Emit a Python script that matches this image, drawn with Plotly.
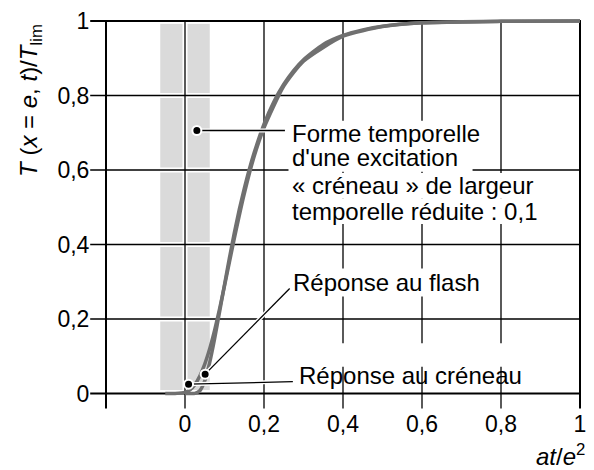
import plotly.graph_objects as go

# Rear-face temperature rise, normalised by its final value, vs reduced time at/e^2
flash_t = [0, 0.0125, 0.025, 0.0375, 0.05, 0.0625, 0.075, 0.0875, 0.1, 0.1125,
           0.125, 0.1375, 0.15, 0.1625, 0.175, 0.2, 0.225, 0.25, 0.275, 0.3,
           0.35, 0.4, 0.45, 0.5, 0.6, 0.7, 0.8, 1.0]
flash_T = [0, 0, 0.0003, 0.0074, 0.034, 0.083, 0.147, 0.219, 0.292, 0.364,
           0.432, 0.494, 0.550, 0.601, 0.646, 0.723, 0.783, 0.830, 0.867, 0.896,
           0.937, 0.961, 0.976, 0.986, 0.995, 0.998, 0.999, 1.0]

creneau_t = [-0.05, -0.025, 0, 0.0125, 0.025, 0.0375, 0.05, 0.0625, 0.075, 0.0875,
             0.1, 0.125, 0.15, 0.175, 0.2, 0.25, 0.3, 0.4, 0.5, 0.6, 0.8, 1.0]
creneau_T = [0, 0.0002, 0.003, 0.0098, 0.024, 0.047, 0.079, 0.120, 0.170, 0.227,
             0.289, 0.417, 0.536, 0.636, 0.713, 0.825, 0.892, 0.959, 0.985, 0.995, 0.999, 1.0]

pulse_width = 0.1  # reduced duration of the square excitation

x_ticks = [0, 0.2, 0.4, 0.6, 0.8, 1.0]
x_ticktext = ["0", "0,2", "0,4", "0,6", "0,8", "1"]
y_ticks = [0, 0.2, 0.4, 0.6, 0.8, 1.0]
y_ticktext = ["0", "0,2", "0,4", "0,6", "0,8", "1"]
x_rules = [-0.2] + x_ticks

# ---- layout geometry ----
W, H = 594, 470
ML, MR, MT, MB = 106, 8, 17, 72
XR = [-0.2, 1.0]
YR = [-0.012, 1.008]
PW = W - ML - MR
PH = H - MT - MB
FONT = "Liberation Sans"
CURVE = "#707070"


def px(x):
    return (x - XR[0]) / (XR[1] - XR[0])


def py(y):
    return (y - YR[0]) / (YR[1] - YR[0])


def box(x0, x1, y0, y1, color):
    return dict(type="rect", xref="paper", yref="paper", layer="below",
                x0=px(x0), x1=px(x1), y0=py(y0), y1=py(y1),
                fillcolor=color, line=dict(width=0))


tick_x = 15 / PH   # tick length below the axis, paper units
tick_y = 16 / PW   # tick length left of the axis, paper units

shapes = []
# light grey band: the square pulse centred on t = 0
band = box(-pulse_width / 2, pulse_width / 2, 0.023, 0.979, "#dadada")
band["line"] = dict(color="#dadada", width=10)
shapes.append(band)

rules = []
for xv in x_rules:
    rules.append((px(xv), px(xv), py(0) - tick_x, py(1.0),
                  2.0 if xv in (-0.2, 1.0) else 1.3))
for yv in y_ticks:
    rules.append((px(-0.2) - tick_y, px(1.0) + 0.002, py(yv), py(yv),
                  2.0 if yv in (0, 1.0) else 1.3))

# white halo first, then the black rules
for x0, x1, y0, y1, w in rules:
    shapes.append(dict(type="line", xref="paper", yref="paper", layer="below",
                       x0=x0, x1=x1, y0=y0, y1=y1,
                       line=dict(color="white", width=5)))
for x0, x1, y0, y1, w in rules:
    shapes.append(dict(type="line", xref="paper", yref="paper", layer="below",
                       x0=x0, x1=x1, y0=y0, y1=y1,
                       line=dict(color="black", width=w)))

# white backing behind the caption lines
shapes.append(box(0.262, 0.775, 0.662, 0.732, "white"))
shapes.append(box(0.262, 0.728, 0.595, 0.662, "white"))
shapes.append(box(0.262, 0.915, 0.523, 0.592, "white"))
shapes.append(box(0.262, 0.925, 0.455, 0.523, "white"))
shapes.append(box(0.275, 0.86, 0.072, 0.135, "white"))

fig = go.Figure()

fig.add_trace(go.Scatter(x=creneau_t, y=creneau_T, mode="lines",
                         line=dict(color=CURVE, width=3.5, shape="spline", smoothing=0.6),
                         hoverinfo="skip"))
fig.add_trace(go.Scatter(x=flash_t, y=flash_T, mode="lines",
                         line=dict(color=CURVE, width=3.5, shape="spline", smoothing=0.6),
                         hoverinfo="skip"))

# callouts: anchor dot and end of the leader line
callouts = [
    ((0.03, 0.706), (0.253, 0.706)),
    ((0.051, 0.052), (0.265, 0.282)),
    ((0.009, 0.025), (0.273, 0.032)),
]
for (ax_, ay_), (bx, by) in callouts:
    fig.add_trace(go.Scatter(x=[ax_, bx], y=[ay_, by], mode="lines",
                             line=dict(color="white", width=4), hoverinfo="skip"))
    fig.add_trace(go.Scatter(x=[ax_, bx], y=[ay_, by], mode="lines",
                             line=dict(color="black", width=1.3), hoverinfo="skip"))
fig.add_trace(go.Scatter(x=[c[0][0] for c in callouts], y=[c[0][1] for c in callouts],
                         mode="markers", cliponaxis=False,
                         marker=dict(color="black", size=9, line=dict(color="white", width=2)),
                         hoverinfo="skip"))

TXT = dict(family=FONT, size=24, color="black")
annotations = []
block = ["Forme temporelle", "d'une excitation",
         "« créneau » de largeur", "temporelle réduite : 0,1"]
block_y = [0.6975, 0.633, 0.558, 0.4875]
for txt, yy in zip(block, block_y):
    annotations.append(dict(x=0.265, y=yy, xref="x", yref="y", text=txt,
                            showarrow=False, xanchor="left", yanchor="middle",
                            font=TXT))
annotations.append(dict(x=0.27, y=0.2985, xref="x", yref="y", text="Réponse au flash",
                        showarrow=False, xanchor="left", yanchor="middle",
                        bgcolor="white", borderpad=0, font=TXT))
annotations.append(dict(x=0.283, y=0.049, xref="x", yref="y", text="Réponse au créneau",
                        showarrow=False, xanchor="left", yanchor="middle", font=TXT))
# axis titles
annotations.append(dict(x=1.0, y=-0.15, xref="paper", yref="paper", xshift=7,
                        text="<i>at</i>/<i>e</i><sup>2</sup>", showarrow=False,
                        xanchor="right", yanchor="middle", font=TXT))
annotations.append(dict(x=-0.158, y=0.782, xref="paper", yref="paper",
                        text="<i>T</i> (<i>x</i> = <i>e</i>, <i>t</i>)/<i>T</i><sub>lim</sub>",
                        textangle=-90, showarrow=False,
                        xanchor="center", yanchor="middle", font=TXT))

fig.update_layout(
    width=W, height=H,
    margin=dict(l=ML, r=MR, t=MT, b=MB, pad=0),
    paper_bgcolor="white", plot_bgcolor="white",
    showlegend=False, hovermode=False,
    shapes=shapes, annotations=annotations,
    font=dict(family=FONT, size=23, color="black"),
)
fig.update_xaxes(range=XR, showgrid=False, zeroline=False, showline=False,
                 tickmode="array", tickvals=x_ticks, ticktext=x_ticktext,
                 ticks="outside", ticklen=5, tickcolor="rgba(0,0,0,0)",
                 tickfont=dict(family=FONT, size=23, color="black"))
fig.update_yaxes(range=YR, showgrid=False, zeroline=False, showline=False,
                 tickmode="array", tickvals=y_ticks, ticktext=y_ticktext,
                 ticks="outside", ticklen=11, tickcolor="rgba(0,0,0,0)",
                 tickfont=dict(family=FONT, size=23, color="black"))

fig.write_html("out.html")
